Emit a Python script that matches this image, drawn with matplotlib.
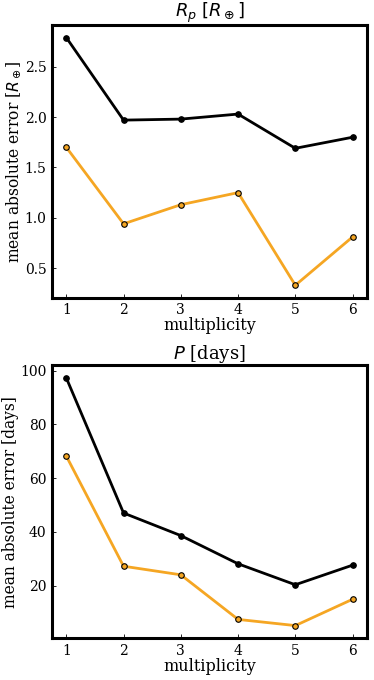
import matplotlib
matplotlib.use("Agg")
import matplotlib.pyplot as plt

multiplicity = [1, 2, 3, 4, 5, 6]

# planet radius errors [R_earth]
rp_black = [2.79, 1.97, 1.98, 2.03, 1.69, 1.80]
rp_orange = [1.70, 0.94, 1.13, 1.25, 0.33, 0.81]

# period errors [days]
per_black = [97.3, 47.0, 38.6, 28.1, 20.3, 27.6]
per_orange = [68.2, 27.2, 24.0, 7.4, 5.1, 14.9]

ORANGE = "#f5a623"

plt.rcParams["font.family"] = "DejaVu Serif"
plt.rcParams["mathtext.fontset"] = "dejavusans"

fig, axes = plt.subplots(2, 1, figsize=(3.74, 6.8), dpi=100)
fig.subplots_adjust(left=0.139, right=0.981, top=0.963, bottom=0.0618, hspace=0.249)

panels = [
    (rp_black, rp_orange, r"$R_p\ [R_\oplus]$", r"mean absolute error [$R_\oplus$]"),
    (per_black, per_orange, r"$P$ [days]", "mean absolute error [days]"),
]

for ax, (yb, yo, title, ylab) in zip(axes, panels):
    ax.plot(multiplicity, yb, "-o", color="black", lw=2, ms=4,
            mec="black", mew=0.8, zorder=3)
    ax.plot(multiplicity, yo, "-o", color=ORANGE, lw=2, ms=4,
            mec="black", mew=0.8, zorder=3)
    ax.set_title(title, fontsize=13, pad=4)
    ax.set_xlabel("multiplicity", fontsize=11.5, labelpad=0)
    ax.set_ylabel(ylab, fontsize=11.2, labelpad=1)
    ax.set_xticks(multiplicity)
    ax.tick_params(direction="in", length=3, width=0.6, labelsize=10, pad=4)
    for s in ax.spines.values():
        s.set_linewidth(2.2)

axes[0].set_yticks([0.5, 1.0, 1.5, 2.0, 2.5])
axes[1].set_yticks([20, 40, 60, 80, 100])

fig.savefig("out.png", dpi=100)
